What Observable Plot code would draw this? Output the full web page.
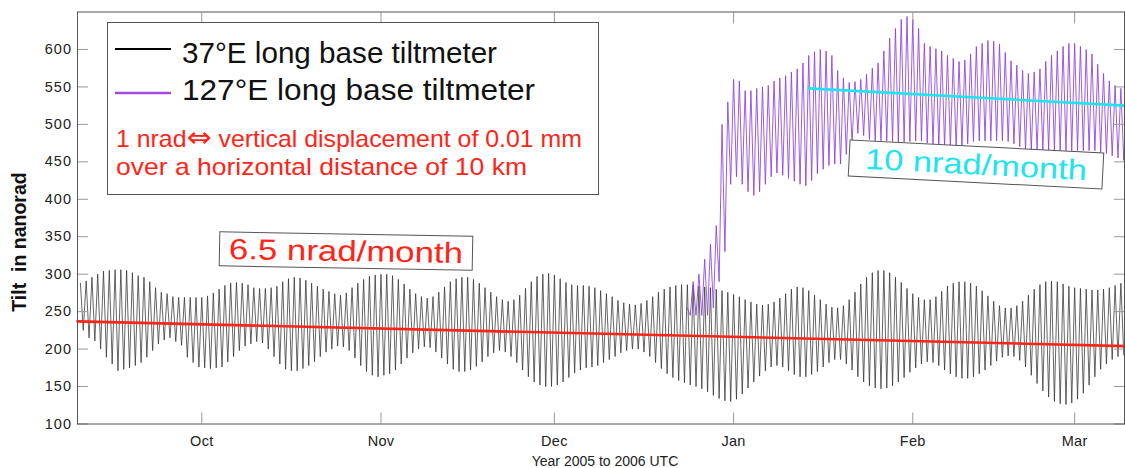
<!DOCTYPE html>
<html><head><meta charset="utf-8">
<script src="https://cdn.jsdelivr.net/npm/d3@7"></script>
<script src="https://cdn.jsdelivr.net/npm/@observablehq/plot@0.6"></script>
<style>
html,body{margin:0;padding:0;background:#fff;}
g[aria-label="y-axis tick label"] text{letter-spacing:1px;}
g[aria-label="x-axis tick label"] text{letter-spacing:0.3px;}
</style></head><body><div id="chart"></div>
<script>
// ---- data ----
const seriesNames = ["37°E long base tiltmeter", "127°E long base tiltmeter"];
const noteLines = ["1 nrad\u21d4 vertical displacement of 0.01 mm", "over a horizontal distance of 10 km"];
const trendLabels = ["6.5 nrad/month", "10 nrad/month"];
const xTitle = "Year 2005 to 2006 UTC";
const yTitle = "Tilt  in nanorad";

const monthTicks = ["2005-10-01", "2005-11-01", "2005-12-01", "2006-01-01", "2006-02-01", "2006-03-01"];
const monthLabels = ["Oct", "Nov", "Dec", "Jan", "Feb", "Mar"];
const yTicks = [100, 150, 200, 250, 300, 350, 400, 450, 500, 550, 600];

// daily high / low of the 37°E tiltmeter, from 2005-09-10
const blackStart = "2005-09-10";
const blackHigh = [288,291,296,300, 304,305,306,306, 305,302,298,296, 290,282,276,274, 270,269,269,269,269,
  269,271,275,280, 285,288,289,288, 286,282,281,281,282, 284,290,294,296,295, 292,288,284,280,277,
  274,272,275,282, 288,293,297,299,300, 300,298,293,287, 280,274,270,268,270, 276,283,290,294,296,
  296,293,288,282, 276,270,266,264,266, 272,281,290,297,300, 301,299,294,289,286, 285,285,284,282,278,
  274,270,265,262,260, 259,261,265,270,276, 280,283,285,286,286, 285,284,283,282,280, 278,276,273,270,266,
  263,260,259,260,263, 268,274,280,283,282, 278,272,266,260,256, 255,258,266,276,287, 296,302,305,305,302,
  296,289,281,274,269, 266,266,270,277,284, 288,290,290,288,284, 278,271,264,258,255, 255,258,264,272,280,
  286,290,291,290,287, 284,282,281,280,279, 279,280,282,285,288];
const blackLow = [225,215,211,200, 189,180,171,173, 175,178,182,189, 198,207,212,215, 210,205,189,182,176,
  175,174,175,176, 183,190,198,204, 207,210,208,200,190, 180,173,171,171,174, 178,183,190,196,200,
  204,203,198,188, 178,170,165,163,165, 167,172,180,188, 195,200,203,202,196, 188,180,173,170,170,
  172,177,183,190, 195,198,196,190,182, 172,163,156,152,150, 150,152,156,162,168, 172,175,176,178,182,
  186,190,195,198,200, 200,196,190,182,174, 167,162,158,155,152, 150,147,143,138,134, 131,130,133,140,148,
  156,164,171,176,178, 176,171,166,163,163, 166,170,176,182,186, 186,180,172,163,156, 151,148,147,148,151,
  156,162,169,175,180, 183,182,178,172,167, 163,161,161,163,167, 172,178,184,189,191, 190,185,176,165,154,
  144,136,130,127,126, 128,133,141,152,163, 173,180,186,190,192];

// daily high / low of the 127°E tiltmeter, from 2005-12-24
const purpleStart = "2005-12-24";
const purpleHigh = [255,290,300,320,340,365,500,530,560,558,545,545,548,550,552,558,562,565,570,574,
  582,592,597,600,598,592,572,562,556,557,560,567,575,582,598,615,628,640,644,640,
  628,608,604,601,598,592,588,584,586,594,604,608,612,611,607,596,585,579,572,568,
  570,574,584,592,598,604,608,608,604,600,594,580,568,558,552,548,545];
const purpleLow = [245,245,245,245,255,290,330,420,430,420,410,405,410,420,430,435,432,428,424,420,
  418,425,434,440,445,447,447,460,475,488,485,480,478,478,478,477,476,476,477,478,
  478,475,472,470,469,469,469,470,474,477,478,478,478,478,478,477,474,470,467,465,
  465,465,465,465,465,465,465,465,465,465,465,463,461,458,455,452,450];

// fitted trends
const redTrendDates = ["2005-09-09T12:00Z", "2006-03-09T18:00Z"];
const redTrendValues = [237, 204];
const cyanTrendDates = ["2006-01-14T00:00Z", "2006-03-09T18:00Z"];
const cyanTrendValues = [548, 525];

// ---- build tables ----
const DAY = 864e5;
function zigzag(start, hi, lo) {
  const t0 = Date.parse(start + "T00:00Z");
  return hi.flatMap((h, i) => [
    {t: new Date(t0 + i * DAY), v: h},
    {t: new Date(t0 + (i + 0.5) * DAY), v: lo[i]}
  ]);
}
const blackPts = zigzag(blackStart, blackHigh, blackLow);
const purplePts = zigzag(purpleStart, purpleHigh, purpleLow);
const redTrend = redTrendDates.map((d, i) => ({t: new Date(d), v: redTrendValues[i]}));
const cyanTrend = cyanTrendDates.map((d, i) => ({t: new Date(d), v: cyanTrendValues[i]}));
const monthDates = monthTicks.map(d => new Date(d + "T00:00Z"));
const monthLabel = d => monthLabels[monthDates.findIndex(m => +m === +d)];

const plot = Plot.plot({
  width: 1125, height: 468,
  marginLeft: 77, marginRight: 1, marginTop: 11.5, marginBottom: 44.5,
  style: {fontFamily: "'Liberation Sans', Arial, sans-serif", fontSize: "14px", background: "#fff", color: "#222"},
  x: {type: "utc", domain: [new Date("2005-09-09T12:00Z"), new Date("2006-03-09T15:00Z")]},
  y: {domain: [100, 650]},
  marks: [
    Plot.line(blackPts, {x: "t", y: "v", stroke: "#333", strokeWidth: 0.75}),
    Plot.line(purplePts, {x: "t", y: "v", stroke: "#8a3fe0", strokeWidth: 0.85}),
    Plot.line(redTrend, {x: "t", y: "v", stroke: "#ff2418", strokeWidth: 2.6}),
    Plot.line(cyanTrend, {x: "t", y: "v", stroke: "#1ee4f0", strokeWidth: 2.6}),
    Plot.axisX(monthDates, {anchor: "bottom", tickSize: 0, tickPadding: 11.5, tickFormat: monthLabel, fontSize: 14.5, label: null}),
    Plot.axisX(monthDates, {anchor: "bottom", tickSize: -11, tickFormat: () => "", stroke: "#999", label: null}),
    Plot.axisX(monthDates, {anchor: "top", tickSize: -11, tickFormat: () => "", stroke: "#999", label: null}),
    Plot.axisY(yTicks, {anchor: "left", tickSize: 0, tickPadding: 5.5, fontSize: 14.5, label: null}),
    Plot.axisY(yTicks, {anchor: "left", tickSize: -11, tickFormat: () => "", stroke: "#999", label: null}),
    Plot.axisY(yTicks, {anchor: "right", tickSize: -11, tickFormat: () => "", stroke: "#999", label: null}),
    Plot.frame({stroke: "#555"})
  ]
});

const svg = d3.select(plot);
// axis titles
svg.append("text").attr("transform", "translate(19,242) rotate(-90)")
  .attr("text-anchor", "middle").attr("dominant-baseline", "central")
  .attr("font-size", 19.5).attr("font-weight", "bold").attr("fill", "#111").text(yTitle);
svg.append("text").attr("x", 605).attr("y", 466).attr("text-anchor", "middle")
  .attr("font-size", 14).attr("fill", "#222").text(xTitle);

// legend box
const lg = svg.append("g").attr("text-anchor", "start");
lg.append("rect").attr("x", 107.5).attr("y", 22.5).attr("width", 491).attr("height", 172)
  .attr("fill", "#fff").attr("stroke", "#555");
lg.append("line").attr("x1", 115).attr("x2", 171).attr("y1", 49).attr("y2", 49).attr("stroke", "#000").attr("stroke-width", 2);
lg.append("line").attr("x1", 115).attr("x2", 171).attr("y1", 93).attr("y2", 93).attr("stroke", "#a24be0").attr("stroke-width", 2.5);
function legText(x, y, size, width, color, str) {
  const t = lg.append("text").attr("text-anchor", "start").attr("x", x).attr("y", y)
    .attr("font-size", size).attr("fill", color)
    .attr("textLength", width).attr("lengthAdjust", "spacingAndGlyphs");
  const parts = str.split("\u21d4");
  parts.forEach((p, i) => {
    if (i > 0) t.append("tspan").attr("font-family", "'DejaVu Sans'").attr("font-size", size * 1.2).text("\u21d4");
    t.append("tspan").text(p);
  });
}
legText(182, 63, 30, 315, "#111", seriesNames[0]);
legText(182, 100, 30, 353, "#111", seriesNames[1]);
legText(116, 146.7, 24, 466, "#ff2418", noteLines[0]);
legText(116, 175, 24, 411, "#ff2418", noteLines[1]);

// rotated trend labels
function tag(cx, cy, rot, w, h, label, color, tw) {
  const g = svg.append("g").attr("transform", `translate(${cx},${cy}) rotate(${rot})`);
  g.append("rect").attr("x", -w / 2).attr("y", -h / 2).attr("width", w).attr("height", h)
    .attr("fill", "#fff").attr("stroke", "#555");
  g.append("text").attr("text-anchor", "middle").attr("dominant-baseline", "central")
    .attr("font-size", 29).attr("fill", color)
    .attr("textLength", tw).attr("lengthAdjust", "spacingAndGlyphs").text(label);
}
tag(346, 251, 1, 253, 34, trendLabels[0], "#ff2418", 234);
tag(976, 164.5, 2.9, 254, 36, trendLabels[1], "#1ee4f0", 222);

document.getElementById("chart").appendChild(plot);
</script></body></html>
